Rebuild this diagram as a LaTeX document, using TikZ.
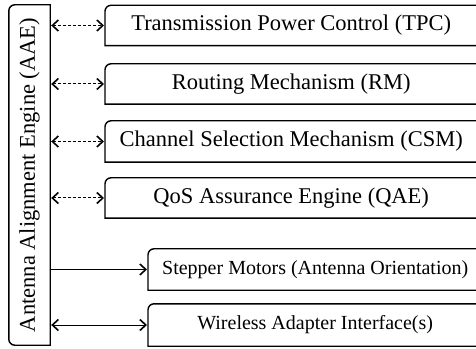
\documentclass[tikz,border=0pt]{standalone}
\usepackage{fontspec}
\setmainfont{Liberation Serif}
\usetikzlibrary{arrows.meta,positioning}

\begin{document}
\begin{tikzpicture}[x=1pt,y=1pt,
  unit/.style={minimum height=40pt,inner sep=0pt,anchor=west,font=\fontsize{22.5}{26}\selectfont},
  hwunit/.style={unit,minimum height=41pt,font=\fontsize{20}{24}\selectfont},
  outline/.style={line width=1.4pt},
  link/.style={line width=1pt,{Straight Barb[length=6pt,width=11pt,line width=1.6pt]}-{Straight Barb[length=6pt,width=11pt,line width=1.6pt]},shorten <=1pt,shorten >=1pt},
  softlink/.style={link,dash pattern=on 3pt off 2pt}
]
\useasboundingbox (0,0) rectangle (476,348);
\clip (0,0) rectangle (476,348);

% Alignment engine on the left
\node[minimum width=41pt,minimum height=340pt,inner sep=0pt,font=\fontsize{22.5}{26}\selectfont] (aae) at (29.5,173)
  {\rotatebox{90}{Antenna Alignment Engine (AAE)}};
\draw[outline] ([xshift=6pt]aae.north west) -- (aae.north east) -- (aae.south east)
  -- ([xshift=6pt]aae.south west) arc[start angle=270,end angle=180,radius=6pt]
  -- ([yshift=-6pt]aae.north west) arc[start angle=180,end angle=90,radius=6pt];

% Software units
\node[unit,minimum width=372pt] (tpc) at (105,322.5) {Transmission Power Control (TPC)};
\node[unit,minimum width=372pt] (rm) at (105,264) {Routing Mechanism (RM)};
\node[unit,minimum width=372pt,minimum height=41pt] (csm) at (105,206.5) {Channel Selection Mechanism (CSM)};
\node[unit,minimum width=372pt] (qae) at (105,150) {QoS Assurance Engine (QAE)};

% Hardware units
\node[hwunit,minimum width=334pt] (stm) at (148,78.5) {Stepper Motors (Antenna Orientation)};
\node[hwunit,minimum width=334pt,minimum height=42pt] (wai) at (148,23) {Wireless Adapter Interface(s)};

\foreach \u in {tpc,rm,csm,qae,stm,wai}
  \draw[outline] (\u.north east) -- ([xshift=6pt]\u.north west)
    arc[start angle=90,end angle=180,radius=6pt]
    -- (\u.south west) -- (\u.south east);

% Links to the engine
\foreach \u in {tpc,rm,csm,qae}
  \draw[softlink] (aae.east |- \u.west) -- (\u.west);
\draw[link,-{Straight Barb[length=6pt,width=11pt,line width=1.6pt]},shorten <=0pt] (aae.east |- stm.west) -- (stm.west);
\draw[link] (aae.east |- wai.west) -- (wai.west);
\end{tikzpicture}
\end{document}
